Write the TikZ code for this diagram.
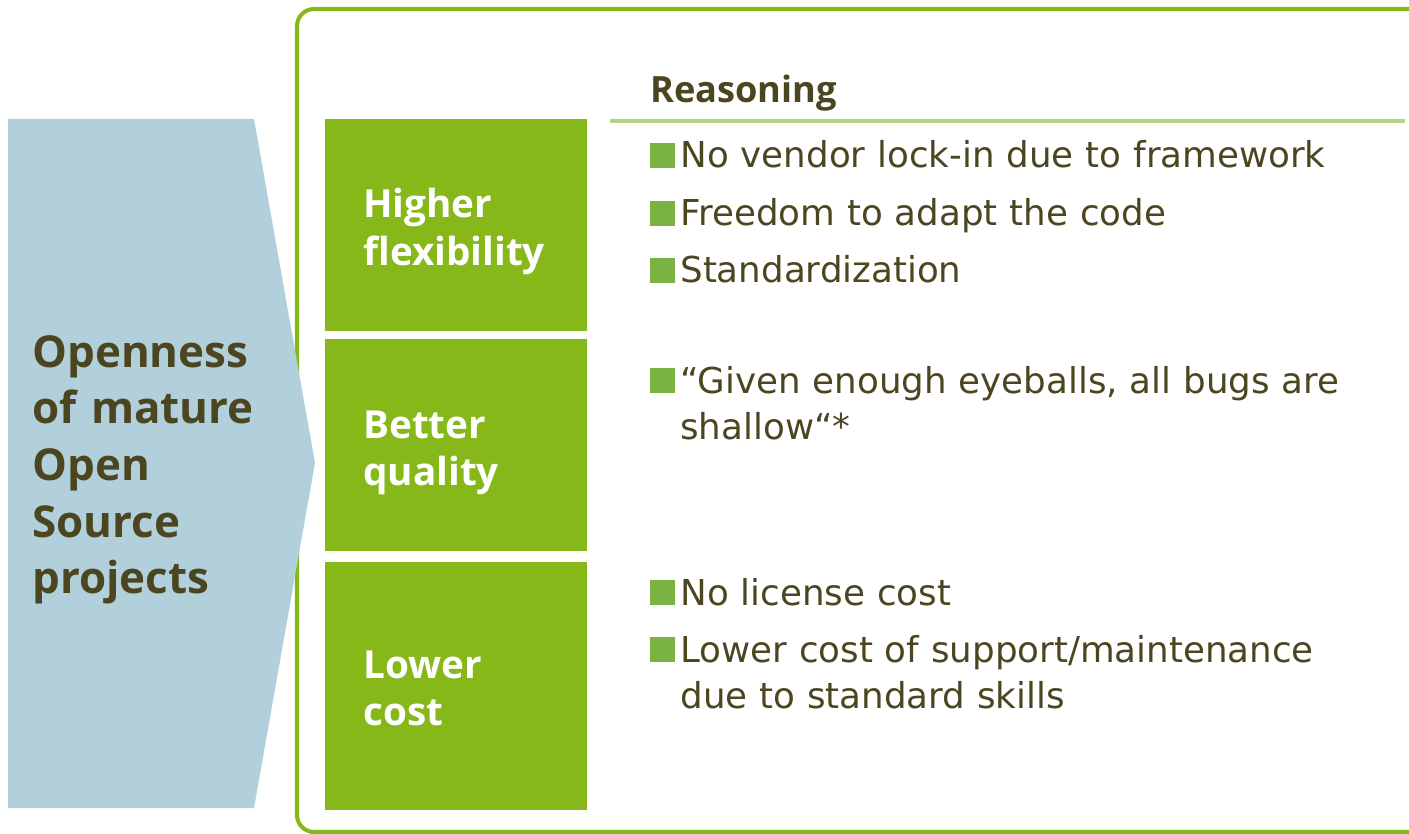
\documentclass[tikz,border=0pt]{standalone}
\usepackage{fontspec}
\setmainfont{Open Sans}
\newfontfamily\bodyfont{DejaVu Sans}
\usepackage{tikz}
\usetikzlibrary{positioning}
\definecolor{boxgreen}{HTML}{86B81A}
\definecolor{bulletgreen}{HTML}{7AB342}
\definecolor{rulegreen}{HTML}{B5D57E}
\definecolor{arrowblue}{HTML}{B2D0DB}
\definecolor{textbrown}{HTML}{4B4520}

\begin{document}
\begin{tikzpicture}[x=0.02cm,y=-0.02cm]
      \tikzstyle{frame}=[draw=boxgreen,line width=2.3pt,rounded corners=0.34cm]
      \tikzstyle{box}=[fill=boxgreen,minimum width=5.24cm,inner sep=0pt]
      \tikzstyle{boxtext}=[anchor=base west,inner sep=0pt,text=white,font=\bfseries\fontsize{22}{27.2}\selectfont,text width=4cm,align=left]
      \tikzstyle{item}=[anchor=base west,inner sep=0pt,text=textbrown,font=\bodyfont\fontsize{20.3}{26.6}\selectfont,text width=14cm,align=left]
      \tikzstyle{sq}=[fill=bulletgreen,minimum size=0.5cm,inner sep=0pt,anchor=south west]
      \useasboundingbox (0,0) rectangle (1409,834);
      \draw[frame] (297,9) rectangle (1450,832);
      \fill[arrowblue] (8,119) -- (254,119) -- (315,463) -- (254,808) -- (8,808) -- cycle;
      \node[anchor=base west,inner sep=0pt,text=textbrown,font=\bfseries\fontsize{25}{32.3}\selectfont,text width=5cm,align=left] (topic) at (32,367) {Openness\\of mature\\Open\\Source\\projects};
      \node[box,minimum height=4.24cm] (flex) at (456,225) {};
      \node[box,minimum height=4.24cm] (qual) at (456,445) {};
      \node[box,minimum height=4.96cm] (cost) at (456,686) {};
      \node[boxtext] (flext) at (363,218) {Higher\\flexibility};
      \node[boxtext] (qualt) at (363,438) {Better\\quality};
      \node[boxtext] (costt) at (363,678) {Lower\\cost};
      \node[anchor=base west,inner sep=0pt,text=textbrown,font=\bfseries\fontsize{20.6}{24}\selectfont] (head) at (650,103) {Reasoning};
      \draw[rulegreen,line width=2pt] (610,121) -- (1405,121);
      \node[sq] (b1) at (650,168) {};
      \node[item] (r1) at (680,168) {No vendor lock-in due to framework};
      \node[sq] (b2) at (650,226) {};
      \node[item] (r2) at (680,226) {Freedom to adapt the code};
      \node[sq] (b3) at (650,283) {};
      \node[item] (r3) at (680,283) {Standardization};
      \node[sq] (b4) at (650,393) {};
      \node[item] (r4) at (680,393) {“Given enough eyeballs, all bugs are\\shallow“*};
      \node[sq] (b5) at (650,605) {};
      \node[item] (r5) at (680,605) {No license cost};
      \node[sq] (b6) at (650,662) {};
      \node[item] (r6) at (680,662) {Lower cost of support/maintenance\\due to standard skills};
    \end{tikzpicture}
\end{document}
